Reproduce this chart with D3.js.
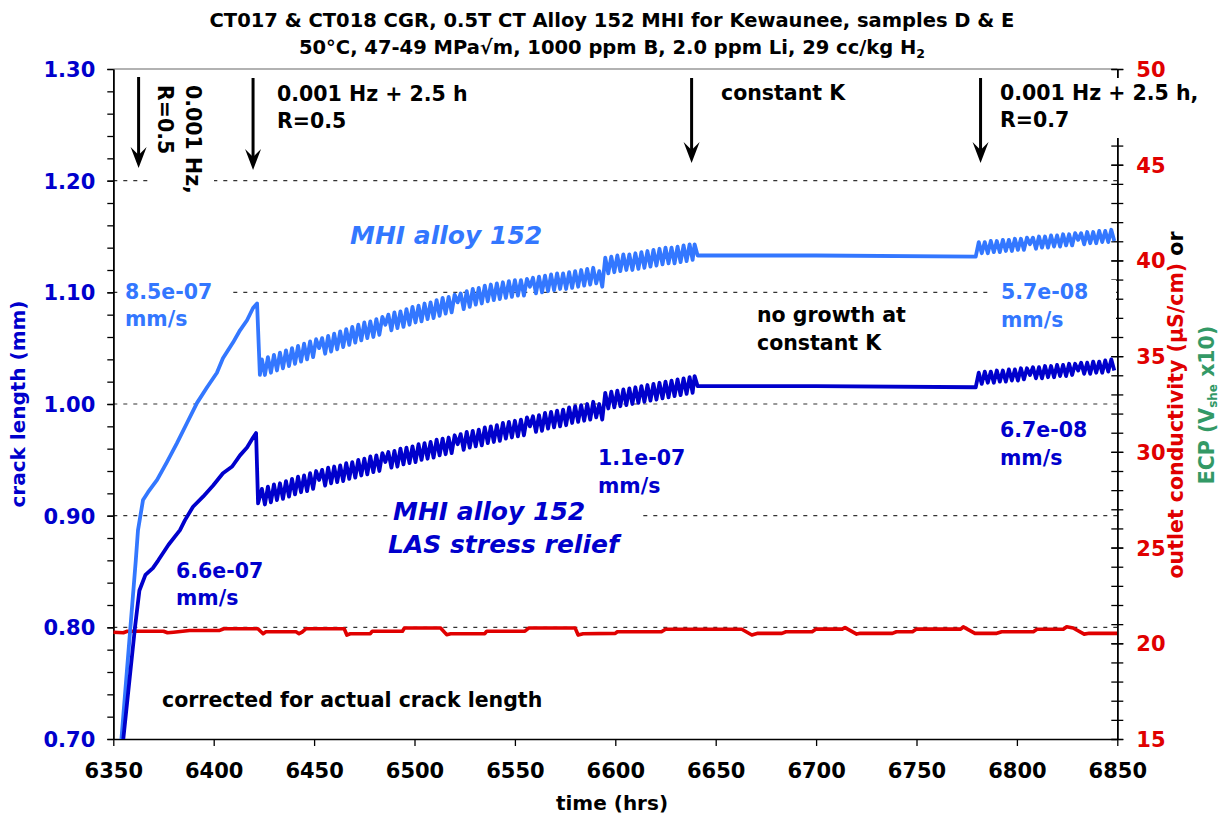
<!DOCTYPE html>
<html>
<head>
<meta charset="utf-8">
<script src="https://cdn.jsdelivr.net/npm/d3@7"></script>
<style>
  body { margin: 0; background: #fff; }
  svg { font-family: "DejaVu Sans", Verdana, sans-serif; font-weight: bold; }
</style>
</head>
<body>
<svg id="chart" width="1225" height="819"></svg>
<script>
// ---- data ----
const xTicks = [6350, 6400, 6450, 6500, 6550, 6600, 6650, 6700, 6750, 6800, 6850];
const leftTicks = [0.70, 0.80, 0.90, 1.00, 1.10, 1.20, 1.30];
const rightTicks = [15, 20, 25, 30, 35, 40, 45, 50];
const gridValues = [0.80, 0.90, 1.00, 1.10, 1.20];

// initial growth (before the first load change), time (h) / crack length (mm)
const lightRampT = [6353.6, 6361.2, 6362.3, 6364.8, 6367.3, 6371.8, 6376.7, 6381.7, 6386.7, 6391.7, 6396.7, 6401.6, 6404.6, 6409.6, 6413.1, 6416.6, 6419.6, 6421.6, 6423.0];
const lightRampV = [0.690, 0.860, 0.887, 0.914, 0.921, 0.932, 0.948, 0.965, 0.983, 1.001, 1.015, 1.028, 1.041, 1.055, 1.066, 1.075, 1.086, 1.090, 1.026];
const darkRampT = [6354.4, 6360.8, 6363.0, 6366.0, 6369.7, 6372.4, 6377.5, 6383.2, 6385.7, 6389.7, 6394.7, 6399.7, 6404.6, 6409.2, 6413.1, 6416.6, 6419.6, 6421.1, 6422.1];
const darkRampV = [0.690, 0.800, 0.833, 0.847, 0.853, 0.860, 0.874, 0.887, 0.896, 0.908, 0.917, 0.927, 0.938, 0.944, 0.954, 0.961, 0.970, 0.974, 0.911];

// cyclic + hold segment 1: peaks every 3 h from 6424, troughs 1.5 h later
const sawStartA = 6424;
const sawStartB = 6781;
const sawStep = 1.5;
const lightPeakA = [
  1.040, 1.042, 1.044, 1.046, 1.048, 1.050, 1.052, 1.054, 1.056, 1.058,
  1.059, 1.061, 1.063, 1.065, 1.067, 1.069, 1.071, 1.073, 1.074, 1.076,
  1.078, 1.080, 1.082, 1.083, 1.085, 1.087, 1.088, 1.090, 1.091, 1.093,
  1.095, 1.096, 1.098, 1.099, 1.101, 1.103, 1.104, 1.106, 1.107, 1.108,
  1.109, 1.110, 1.111, 1.111, 1.112, 1.113, 1.114, 1.115, 1.116, 1.117,
  1.117, 1.118, 1.119, 1.120, 1.121, 1.122, 1.119, 1.131, 1.132, 1.133,
  1.134, 1.134, 1.135, 1.136, 1.137, 1.138, 1.139, 1.140, 1.140, 1.141,
  1.142, 1.143];
const lightTroughA = [
  1.026, 1.028, 1.030, 1.032, 1.034, 1.036, 1.038, 1.040, 1.042, 1.050,
  1.045, 1.047, 1.049, 1.051, 1.053, 1.055, 1.057, 1.059, 1.060, 1.062,
  1.071, 1.066, 1.068, 1.069, 1.071, 1.073, 1.074, 1.076, 1.077, 1.079,
  1.081, 1.082, 1.091, 1.085, 1.087, 1.089, 1.090, 1.092, 1.093, 1.094,
  1.095, 1.096, 1.097, 1.097, 1.105, 1.099, 1.100, 1.101, 1.102, 1.103,
  1.103, 1.104, 1.105, 1.106, 1.107, 1.108, 1.105, 1.117, 1.118, 1.119,
  1.120, 1.120, 1.121, 1.122, 1.123, 1.124, 1.125, 1.126, 1.126, 1.127,
  1.128, 1.129];
const darkPeakA = [
  0.924, 0.926, 0.928, 0.929, 0.931, 0.933, 0.935, 0.936, 0.938, 0.940,
  0.941, 0.943, 0.944, 0.945, 0.947, 0.948, 0.950, 0.951, 0.953, 0.954,
  0.956, 0.957, 0.958, 0.960, 0.961, 0.962, 0.964, 0.965, 0.966, 0.968,
  0.969, 0.970, 0.972, 0.973, 0.975, 0.976, 0.977, 0.979, 0.980, 0.981,
  0.983, 0.984, 0.985, 0.986, 0.988, 0.989, 0.990, 0.992, 0.993, 0.994,
  0.995, 0.997, 0.998, 0.999, 1.000, 1.002, 1.000, 1.010, 1.011, 1.012,
  1.013, 1.014, 1.015, 1.016, 1.017, 1.018, 1.019, 1.020, 1.021, 1.022,
  1.023, 1.024];
const darkTroughA = [
  0.910, 0.912, 0.914, 0.915, 0.917, 0.919, 0.921, 0.922, 0.924, 0.932,
  0.927, 0.929, 0.930, 0.931, 0.933, 0.934, 0.936, 0.937, 0.939, 0.940,
  0.948, 0.943, 0.944, 0.946, 0.947, 0.948, 0.950, 0.951, 0.952, 0.954,
  0.955, 0.956, 0.964, 0.959, 0.961, 0.962, 0.963, 0.965, 0.966, 0.967,
  0.969, 0.970, 0.971, 0.972, 0.980, 0.975, 0.976, 0.978, 0.979, 0.980,
  0.981, 0.983, 0.984, 0.985, 0.986, 0.988, 0.986, 0.996, 0.997, 0.998,
  0.999, 1.000, 1.001, 1.002, 1.003, 1.004, 1.005, 1.006, 1.007, 1.008,
  1.009, 1.010];

// constant K hold
const holdT = [6639.5, 6641, 6700, 6779.5];
const lightHoldV = [1.143, 1.133, 1.133, 1.132];
const darkHoldV = [1.025, 1.016, 1.016, 1.015];

// cyclic + hold segment 2 (R=0.7)
const lightPeakB = [1.145, 1.145, 1.146, 1.146, 1.147, 1.147, 1.148, 1.148, 1.149, 1.149, 1.150, 1.150, 1.151, 1.151, 1.152, 1.152, 1.153, 1.153, 1.154, 1.154, 1.155, 1.155, 1.156];
const lightTroughB = [1.135, 1.135, 1.136, 1.136, 1.137, 1.137, 1.138, 1.138, 1.143, 1.139, 1.140, 1.140, 1.141, 1.141, 1.142, 1.142, 1.147, 1.143, 1.144, 1.144, 1.145, 1.145, 1.146];
const darkPeakB = [1.028, 1.029, 1.029, 1.030, 1.030, 1.031, 1.031, 1.032, 1.032, 1.033, 1.033, 1.034, 1.034, 1.035, 1.035, 1.036, 1.036, 1.037, 1.037, 1.038, 1.038, 1.039, 1.040];
const darkTroughB = [1.018, 1.019, 1.019, 1.020, 1.020, 1.021, 1.021, 1.022, 1.026, 1.023, 1.023, 1.024, 1.024, 1.025, 1.025, 1.026, 1.030, 1.027, 1.027, 1.028, 1.028, 1.029, 1.030];

// outlet conductivity (uS/cm), [time, value]
const conductivity = [
  [6350, 20.58], [6355, 20.55], [6357, 20.63], [6375, 20.63], [6377, 20.55], [6380, 20.58],
  [6388, 20.67], [6403, 20.67], [6405, 20.76], [6422, 20.76], [6424.6, 20.50], [6426, 20.60],
  [6441, 20.60], [6442.5, 20.50], [6444, 20.58], [6446, 20.76], [6465, 20.76], [6466.3, 20.43],
  [6468, 20.50], [6478, 20.50], [6479, 20.63], [6494, 20.63], [6495, 20.80], [6513, 20.80],
  [6516, 20.45], [6518, 20.50], [6535, 20.50], [6536, 20.63], [6555, 20.63], [6557, 20.80],
  [6580, 20.80], [6581.5, 20.43], [6584, 20.50], [6600, 20.52], [6601, 20.60], [6623, 20.60],
  [6625, 20.73], [6663, 20.73], [6668, 20.43], [6671, 20.52], [6683, 20.52], [6685, 20.60],
  [6698, 20.60], [6700, 20.74], [6713, 20.74], [6714.4, 20.82], [6720.2, 20.48], [6722, 20.52],
  [6738, 20.52], [6740, 20.60], [6748, 20.60], [6750, 20.74], [6772, 20.74], [6773.3, 20.86],
  [6779.1, 20.52], [6790, 20.52], [6792.4, 20.60], [6808.2, 20.60], [6810, 20.73], [6823.1, 20.73],
  [6824.8, 20.86], [6828, 20.80], [6833.5, 20.48], [6836, 20.52], [6850, 20.52]];

// ---- layout ----
const width = 1225;
const height = 819;
const margin = { top: 69, right: 107.7, bottom: 80, left: 113.3 };
const lightBlue = "#3377ff";
const darkBlue = "#0000cc";
const red = "#e00000";
const green = "#339966";

const svg = d3.select("#chart");

const x = d3.scaleLinear().domain([6350, 6850]).range([margin.left, width - margin.right]);
const y = d3.scaleLinear().domain([0.70, 1.30]).range([height - margin.bottom, margin.top]);
const y2 = d3.scaleLinear().domain([15, 50]).range([height - margin.bottom, margin.top]);

// join the pieces of one specimen into [time, mm] points
function zip(ts, vs) {
	return ts.map((t, i) => [t, vs[i]]);
}
function saw(start, peaks, troughs) {
	const pts = [];
	peaks.forEach((p, i) => {
		pts.push([start + 2 * i * sawStep, p]);
		pts.push([start + (2 * i + 1) * sawStep, troughs[i]]);
	});
	return pts;
}
const lightSeries = [].concat(
	zip(lightRampT, lightRampV),
	saw(sawStartA, lightPeakA, lightTroughA),
	zip(holdT, lightHoldV),
	saw(sawStartB, lightPeakB, lightTroughB)
);
const darkSeries = [].concat(
	zip(darkRampT, darkRampV),
	saw(sawStartA, darkPeakA, darkTroughA),
	zip(holdT, darkHoldV),
	saw(sawStartB, darkPeakB, darkTroughB)
);

// gridlines + top border
svg.append("g")
	.selectAll("line")
	.data(gridValues)
	.join("line")
	.attr("x1", x(6350))
	.attr("x2", x(6850))
	.attr("y1", (d) => y(d))
	.attr("y2", (d) => y(d))
	.attr("stroke", "#333")
	.attr("stroke-width", 1.2)
	.attr("stroke-dasharray", "4,6");
svg.append("line")
	.attr("x1", x(6350))
	.attr("x2", x(6850))
	.attr("y1", y(1.3))
	.attr("y2", y(1.3))
	.attr("stroke", "#999")
	.attr("stroke-width", 1.5);

// axes
const styleAxis = (g, color) => {
	g.attr("font-family", "DejaVu Sans").attr("font-weight", "bold").attr("font-size", 21);
	g.selectAll("text").attr("fill", color);
	g.selectAll("line").attr("stroke", "#000").attr("stroke-width", 1.3);
	g.select(".domain").attr("stroke", "#000").attr("stroke-width", 1.5);
};

const leftMinor = d3.range(35, 66).map((i) => i / 50);
svg.append("g")
	.attr("transform", `translate(${margin.left},0)`)
	.call(d3.axisLeft(y).tickValues(leftMinor).tickFormat("").tickSizeInner(6).tickSizeOuter(0))
	.call((g) => styleAxis(g, darkBlue));
svg.append("g")
	.attr("transform", `translate(${margin.left},0)`)
	.call(d3.axisLeft(y).tickValues(leftTicks).tickFormat(d3.format(".2f")).tickSizeInner(6).tickSizeOuter(0).tickPadding(12))
	.call((g) => styleAxis(g, darkBlue))
	.call((g) => g.selectAll("text").attr("dy", "0.36em"));

const rightMinor = d3.range(15, 51);
svg.append("g")
	.attr("transform", `translate(${width - margin.right},0)`)
	.call(d3.axisRight(y2).tickValues(rightMinor).tickFormat("").tickSizeInner(6).tickSizeOuter(0))
	.call((g) => styleAxis(g, red))
	.call((g) => g.selectAll(".tick line").attr("x1", -6));
svg.append("g")
	.attr("transform", `translate(${width - margin.right},0)`)
	.call(d3.axisRight(y2).tickValues(rightTicks).tickSizeInner(6).tickSizeOuter(0).tickPadding(13))
	.call((g) => styleAxis(g, red))
	.call((g) => g.selectAll(".tick line").attr("x1", -6))
	.call((g) => g.selectAll("text").attr("dy", "0.36em"));

svg.append("g")
	.attr("transform", `translate(0,${height - margin.bottom})`)
	.call(d3.axisBottom(x).tickValues(xTicks).tickFormat(d3.format("d")).tickSizeInner(7).tickSizeOuter(0).tickPadding(17))
	.call((g) => styleAxis(g, "#000"));

// white boxes behind some labels (they hide gridlines and part of the right axis)
const boxes = [
	[150, 74, 64, 130],
	[118, 280, 110, 52],
	[992, 280, 124, 52],
	[388, 500, 252, 60],
	[995, 78, 217, 60],
];
svg.append("g")
	.selectAll("rect")
	.data(boxes)
	.join("rect")
	.attr("x", (d) => d[0])
	.attr("y", (d) => d[1])
	.attr("width", (d) => d[2])
	.attr("height", (d) => d[3])
	.attr("fill", "#fff");

// data lines
svg.append("clipPath")
	.attr("id", "plotClip")
	.append("rect")
	.attr("x", margin.left)
	.attr("y", margin.top)
	.attr("width", width - margin.left - margin.right)
	.attr("height", height - margin.top - margin.bottom);

const plot = svg.append("g").attr("clip-path", "url(#plotClip)");
const lineMm = d3.line().x((d) => x(d[0])).y((d) => y(d[1]));
const lineCond = d3.line().x((d) => x(d[0])).y((d) => y2(d[1]));

plot.append("path")
	.attr("d", lineCond(conductivity))
	.attr("fill", "none")
	.attr("stroke", red)
	.attr("stroke-width", 3.6)
	.attr("stroke-linejoin", "round");
plot.append("path")
	.attr("d", lineMm(lightSeries))
	.attr("fill", "none")
	.attr("stroke", lightBlue)
	.attr("stroke-width", 3.8)
	.attr("stroke-linejoin", "round");
plot.append("path")
	.attr("d", lineMm(darkSeries))
	.attr("fill", "none")
	.attr("stroke", darkBlue)
	.attr("stroke-width", 3.8)
	.attr("stroke-linejoin", "round");

// arrows marking the load changes
const arrows = [
	{ t: 6362.6, top: 77, tip: 168 },
	{ t: 6419.6, top: 78, tip: 170 },
	{ t: 6638.0, top: 78, tip: 163 },
	{ t: 6781.9, top: 78, tip: 163 },
];
const arrowG = svg.append("g").selectAll("g").data(arrows).join("g");
arrowG.append("line")
	.attr("x1", (d) => x(d.t))
	.attr("x2", (d) => x(d.t))
	.attr("y1", (d) => d.top)
	.attr("y2", (d) => d.tip - 10)
	.attr("stroke", "#000")
	.attr("stroke-width", 3);
arrowG.append("path")
	.attr("d", (d) => {
		const cx = x(d.t);
		return `M${cx},${d.tip} L${cx - 8},${d.tip - 21} L${cx},${d.tip - 13} L${cx + 8},${d.tip - 21} Z`;
	})
	.attr("fill", "#000");

// titles
const title = svg.append("g").attr("text-anchor", "middle").attr("font-size", 19.5).attr("fill", "#000");
title.append("text").attr("x", 612).attr("y", 27).text("CT017 & CT018 CGR, 0.5T CT Alloy 152 MHI for Kewaunee, samples D & E");
const t2 = title.append("text").attr("x", 612).attr("y", 54);
t2.append("tspan").text("50°C, 47-49 MPa√m, 1000 ppm B, 2.0 ppm Li, 29 cc/kg H");
t2.append("tspan").attr("font-size", 12.5).attr("dy", 4).text("2");

svg.append("text")
	.attr("x", 612)
	.attr("y", 810)
	.attr("text-anchor", "middle")
	.attr("font-size", 20)
	.text("time (hrs)");

svg.append("text")
	.attr("transform", "translate(25,404) rotate(-90)")
	.attr("text-anchor", "middle")
	.attr("font-size", 20)
	.attr("fill", darkBlue)
	.text("crack length (mm)");

const r1 = svg.append("text")
	.attr("transform", "translate(1183,405) rotate(-90)")
	.attr("text-anchor", "middle")
	.attr("font-size", 20.5);
r1.append("tspan").attr("fill", red).text("outlet conductivity (µS/cm)");
r1.append("tspan").attr("fill", "#000").text(" or");

const r2 = svg.append("text")
	.attr("transform", "translate(1214,405) rotate(-90)")
	.attr("text-anchor", "middle")
	.attr("font-size", 20.5)
	.attr("fill", green);
r2.append("tspan").text("ECP (V");
r2.append("tspan").attr("font-size", 12).attr("dy", 3).text("she");
r2.append("tspan").attr("dy", -3).text(" x10)");

// annotations
const notes = [
	{ s: "0.001 Hz + 2.5 h", x: 277, y: 101, c: "#000" },
	{ s: "R=0.5", x: 277, y: 128, c: "#000" },
	{ s: "constant K", x: 721, y: 100, c: "#000" },
	{ s: "0.001 Hz + 2.5 h,", x: 1000, y: 100, c: "#000" },
	{ s: "R=0.7", x: 1000, y: 127, c: "#000" },
	{ s: "8.5e-07", x: 125, y: 299, c: lightBlue },
	{ s: "mm/s", x: 125, y: 326, c: lightBlue },
	{ s: "5.7e-08", x: 1001, y: 299, c: lightBlue },
	{ s: "mm/s", x: 1001, y: 327, c: lightBlue },
	{ s: "no growth at", x: 757, y: 322, c: "#000" },
	{ s: "constant K", x: 757, y: 350, c: "#000" },
	{ s: "6.7e-08", x: 1000, y: 437, c: darkBlue },
	{ s: "mm/s", x: 1000, y: 465, c: darkBlue },
	{ s: "1.1e-07", x: 598, y: 465, c: darkBlue },
	{ s: "mm/s", x: 598, y: 493, c: darkBlue },
	{ s: "6.6e-07", x: 176, y: 578, c: darkBlue },
	{ s: "mm/s", x: 176, y: 605, c: darkBlue },
	{ s: "corrected for actual crack length", x: 162, y: 707, c: "#000" },
	{ s: "MHI alloy 152", x: 350, y: 244, c: lightBlue, big: true },
	{ s: "MHI alloy 152", x: 393, y: 520, c: darkBlue, big: true },
	{ s: "LAS stress relief", x: 388, y: 553, c: darkBlue, big: true },
];
svg.append("g")
	.selectAll("text")
	.data(notes)
	.join("text")
	.attr("x", (d) => d.x)
	.attr("y", (d) => d.y)
	.attr("fill", (d) => d.c)
	.attr("font-size", (d) => (d.big ? 25 : 20.5))
	.attr("font-style", (d) => (d.big ? "italic" : null))
	.text((d) => d.s);

// rotated note next to the first arrow
svg.append("text").attr("transform", "translate(186,85) rotate(90)").attr("font-size", 20.5).text("0.001 Hz,");
svg.append("text").attr("transform", "translate(158,85) rotate(90)").attr("font-size", 20.5).text("R=0.5");
</script>
</body>
</html>
